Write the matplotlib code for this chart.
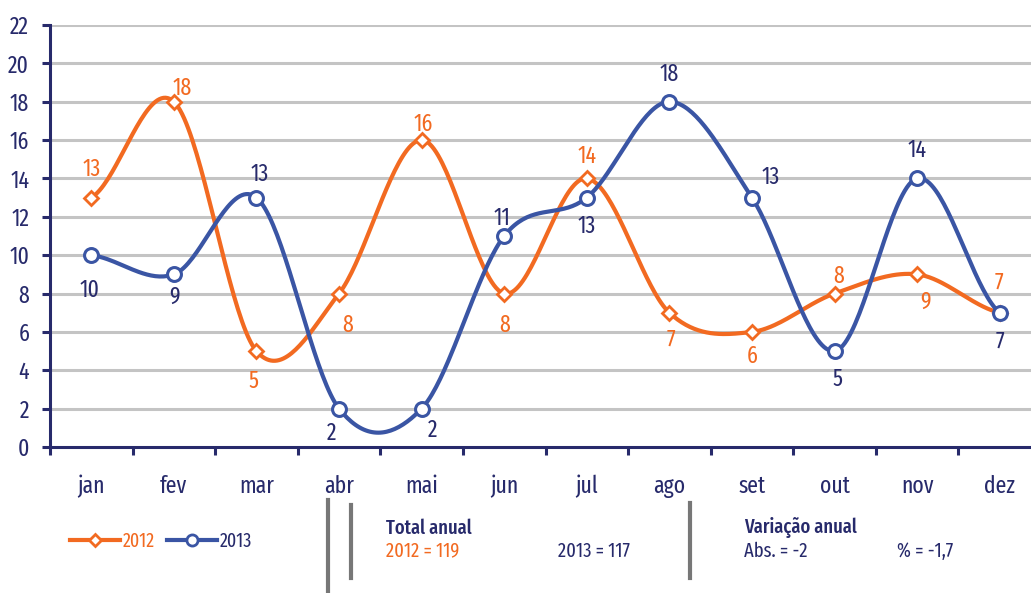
import matplotlib.pyplot as plt
from matplotlib.lines import Line2D
import numpy as np

months = ['jan', 'fev', 'mar', 'abr', 'mai', 'jun', 'jul', 'ago', 'set', 'out', 'nov', 'dez']
v2012 = [13, 18, 5, 8, 16, 8, 14, 7, 6, 8, 9, 7]
v2013 = [10, 9, 13, 2, 2, 11, 13, 18, 13, 5, 14, 7]
yticks = list(range(0, 23, 2))

# label offsets in pixels (dx, dy) relative to each point
off2012 = [(0, 28), (8, 13), (-3, -30), (9, -32), (2, 16), (0, -32), (0, 22), (2, -27), (0, -24), (4, 17), (8, -28), (-1, 30)]
off2013 = [(-2, -35), (1, -23), (3, 23), (-7, -25), (11, -22), (-2, 18), (0, -29), (0, 27), (19, 20), (3, -28), (0, 28), (0, -29)]

ORANGE = '#F26A21'
BLUE = '#3A55A4'
NAVY = '#272A6B'
GRID = '#C4C4C4'

plt.rcParams['font.family'] = ['Fira Sans Extra Condensed', 'Barlow Condensed', 'Liberation Sans Narrow', 'DejaVu Sans']


def smooth(y, n=40):
    # Catmull-Rom curve through the points (like spreadsheet smoothed lines)
    y = np.asarray(y, dtype=float)
    p = np.concatenate([[y[0]], y, [y[-1]]])
    xs, ys = [], []
    for i in range(len(y) - 1):
        p0, p1, p2, p3 = p[i], p[i + 1], p[i + 2], p[i + 3]
        t = np.linspace(0, 1, n, endpoint=False)
        yy = 0.5 * (2 * p1 + (-p0 + p2) * t + (2 * p0 - 5 * p1 + 4 * p2 - p3) * t ** 2
                    + (-p0 + 3 * p1 - 3 * p2 + p3) * t ** 3)
        xs.append(i + t)
        ys.append(yy)
    xs.append([len(y) - 1])
    ys.append([y[-1]])
    return np.concatenate(xs), np.concatenate(ys)


fig = plt.figure(figsize=(10.31, 5.93), dpi=100)
ax = fig.add_axes([50 / 1031, 1 - 447 / 593, 991 / 1031, 422 / 593])

for yv in yticks[1:]:
    ax.axhline(yv, color=GRID, lw=2.2, zorder=0)

x = np.arange(len(months))
sx, sy = smooth(v2012)
ax.plot(sx, sy, color=ORANGE, lw=3, zorder=2, solid_capstyle='round')
sx, sy = smooth(v2013)
ax.plot(sx, sy, color=BLUE, lw=3, zorder=3, solid_capstyle='round')
ax.plot(x, v2012, ls='none', marker='D', ms=7.5, mfc='white', mec=ORANGE, mew=2, zorder=4)
ax.plot(x, v2013, ls='none', marker='o', ms=10, mfc='white', mec=BLUE, mew=2.2, zorder=5)

for i in range(len(months)):
    ax.annotate(str(v2012[i]), (x[i], v2012[i]), xytext=(off2012[i][0] * 0.72, off2012[i][1] * 0.72),
                textcoords='offset points', ha='center', va='center', color=ORANGE, fontsize=17)
    ax.annotate(str(v2013[i]), (x[i], v2013[i]), xytext=(off2013[i][0] * 0.72, off2013[i][1] * 0.72),
                textcoords='offset points', ha='center', va='center', color=NAVY, fontsize=17)

ax.set_xlim(-0.5, len(months) - 0.5)
ax.set_ylim(0, 22)
ax.set_yticks(yticks)
ax.set_yticklabels([str(v) for v in yticks], color=NAVY, fontsize=17)
ax.set_xticks(x)
ax.set_xticklabels(months, color=NAVY, fontsize=17)
ax.set_xticks(np.arange(-0.5, len(months), 1), minor=True)
ax.tick_params(axis='x', which='major', length=0, pad=20)
ax.tick_params(axis='x', which='minor', length=6, width=2.2, color=NAVY, direction='out')
ax.tick_params(axis='y', length=6, width=2.2, color=NAVY, pad=9)
for s in ['top', 'right']:
    ax.spines[s].set_visible(False)
for s in ['left', 'bottom']:
    ax.spines[s].set_color(NAVY)
    ax.spines[s].set_linewidth(2.2)
    ax.spines[s].set_zorder(6)

# legend
handles = [Line2D([], [], color=ORANGE, lw=3, marker='D', ms=6, mfc='white', mec=ORANGE, mew=2),
           Line2D([], [], color=BLUE, lw=3, marker='o', ms=8, mfc='white', mec=BLUE, mew=2)]
leg = fig.legend(handles, ['2012', '2013'], loc='center left', bbox_to_anchor=(52 / 1031, 1 - 541 / 593),
                 ncol=2, frameon=False, fontsize=14, handlelength=2.6, handletextpad=0.15, columnspacing=0.6)
leg.get_texts()[0].set_color(ORANGE)
leg.get_texts()[1].set_color(NAVY)

# separators
fig.add_artist(Line2D([328 / 1031] * 2, [0, 1 - 500 / 593], color='#777777', lw=3))
fig.add_artist(Line2D([351 / 1031] * 2, [1 - 578 / 593, 1 - 505 / 593], color='#777777', lw=3))
fig.add_artist(Line2D([690 / 1031] * 2, [1 - 578 / 593, 1 - 503 / 593], color='#777777', lw=3))

kw = dict(fontsize=14.5, va='center')
fig.text(386 / 1031, 1 - 528 / 593, 'Total anual', color=NAVY, fontweight='medium', **kw)
fig.text(386 / 1031, 1 - 551 / 593, '2012 = 119', color=ORANGE, **kw)
fig.text(558 / 1031, 1 - 551 / 593, '2013 = 117', color=NAVY, **kw)
fig.text(744 / 1031, 1 - 528 / 593, 'Variação anual', color=NAVY, fontweight='medium', **kw)
fig.text(744 / 1031, 1 - 551 / 593, 'Abs. = -2', color=NAVY, **kw)
fig.text(897 / 1031, 1 - 551 / 593, '% = -1,7', color=NAVY, **kw)

fig.savefig('out.png', dpi=100)
